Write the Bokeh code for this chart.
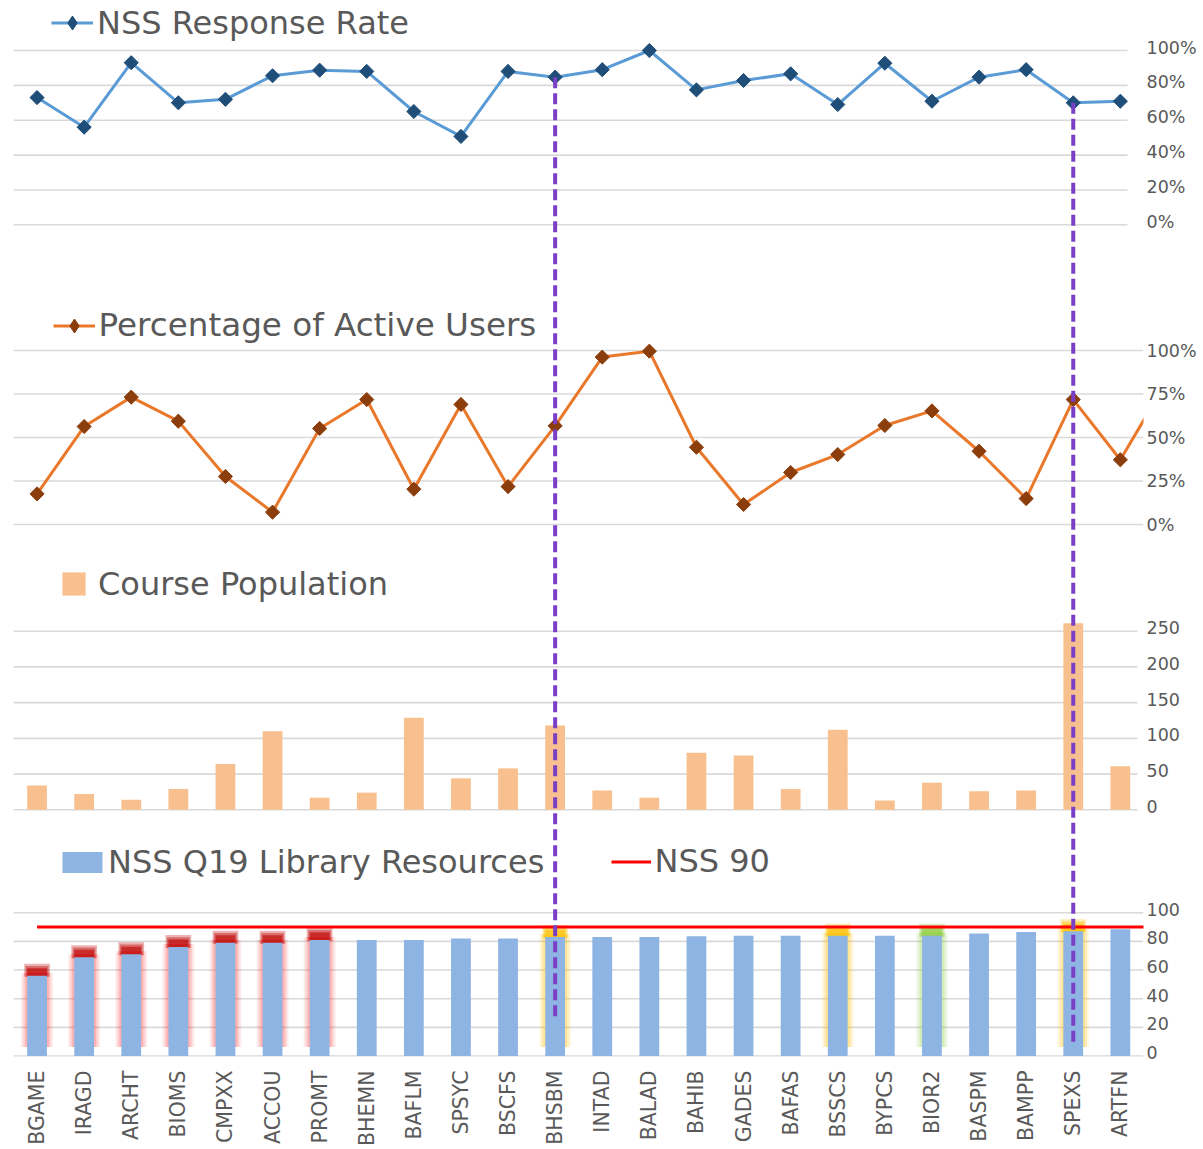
import math
from bokeh.plotting import figure
from bokeh.models import (Range1d, Legend, LegendItem, FixedTicker, LinearAxis)
from bokeh.embed import file_html
from bokeh.resources import INLINE

# ---------------- data ----------------
categories = ["BGAME", "IRAGD", "ARCHT", "BIOMS", "CMPXX", "ACCOU", "PROMT", "BHEMN",
              "BAFLM", "SPSYC", "BSCFS", "BHSBM", "INTAD", "BALAD", "BAHIB", "GADES",
              "BAFAS", "BSSCS", "BYPCS", "BIOR2", "BASPM", "BAMPP", "SPEXS", "ARTFN"]

response_rate = [0.73, 0.56, 0.93, 0.70, 0.72, 0.855, 0.887, 0.88, 0.65, 0.507, 0.88, 0.847,
                 0.89, 1.00, 0.774, 0.828, 0.866, 0.69, 0.927, 0.709, 0.847, 0.89, 0.70, 0.709]

# last value belongs to a course beyond the visible crop (line runs off the edge)
active_users = [0.176, 0.563, 0.732, 0.594, 0.276, 0.071, 0.552, 0.718, 0.203, 0.69, 0.218,
                0.567, 0.962, 0.996, 0.444, 0.115, 0.299, 0.402, 0.569, 0.653, 0.421, 0.149,
                0.718, 0.372, 0.83]

course_population = [34, 22, 14, 29, 64, 110, 17, 24, 129, 44, 58, 118, 27, 17, 80, 76, 29,
                     112, 13, 38, 26, 27, 261, 61]

library_q19 = [56, 69, 71, 76, 79, 79, 81, 81, 81, 82, 82, 83, 83, 83, 83.5, 84, 84, 84, 84,
               84, 85.5, 86.5, 87, 88.5]

nss_90 = [90, 90, 90, 90, 90, 90, 90, 90, 90, 90, 90, 90, 90, 90, 90, 90, 90, 90, 90, 90,
          90, 90, 90, 90, 90]

glow_red = ["BGAME", "IRAGD", "ARCHT", "BIOMS", "CMPXX", "ACCOU", "PROMT"]
glow_yellow = ["BHSBM", "BSSCS", "SPEXS"]
glow_green = ["BIOR2"]

rr_ticks = [0, 0.2, 0.4, 0.6, 0.8, 1.0]
rr_tick_labels = ["0%", "20%", "40%", "60%", "80%", "100%"]
au_ticks = [0, 0.25, 0.5, 0.75, 1.0]
au_tick_labels = ["0%", "25%", "50%", "75%", "100%"]
pop_ticks = [0, 50, 100, 150, 200, 250]
pop_tick_labels = ["0", "50", "100", "150", "200", "250"]
lib_ticks = [0, 20, 40, 60, 80, 100]
lib_tick_labels = ["0", "20", "40", "60", "80", "100"]

guide_courses = ["BHSBM", "SPEXS"]
guide_library_end = [25, 8]

# ---------------- layout ----------------
W, H = 1203, 1149
ML, MR, MB = 13, 60, 93
FW, FH = W - ML - MR, H - MB
CAT_PX = 47.1
BAR_W = 0.42
FONT = "DejaVu Sans"
GREY = "#595959"

# value -> pixel-from-frame-top bands for each stacked panel
BANDS = {
    "rr": (0.0, 224.3, 1.0, 50.0),
    "au": (0.0, 524.0, 1.0, 350.0),
    "pop": (0.0, 809.3, 250.0, 630.7),
    "lib": (0.0, 1055.6, 100.0, 912.2),
}
LABEL_LIFT = {"rr": 3, "au": 0, "pop": 3, "lib": 3}


def to_px(band, v):
    v_lo, p_lo, v_hi, p_hi = BANDS[band]
    return p_lo + (v - v_lo) * (p_hi - p_lo) / (v_hi - v_lo)


def band_range(band):
    v_lo, p_lo, v_hi, p_hi = BANDS[band]
    f = lambda px: v_lo + (px - p_lo) * (v_hi - v_lo) / (p_hi - p_lo)
    return Range1d(start=f(FH), end=f(0))


x_lo = -0.5
x_hi = -0.5 + FW / CAT_PX

p = figure(width=W, height=H, x_range=Range1d(x_lo, x_hi), y_range=Range1d(FH, 0),
           output_backend="svg", toolbar_location=None,
           x_axis_location=None, y_axis_location=None,
           min_border_left=ML, min_border_right=MR, min_border_top=0, min_border_bottom=MB)
p.outline_line_color = None
p.background_fill_color = "white"
p.border_fill_color = "white"
p.xgrid.visible = False
p.ygrid.visible = False
for k in BANDS:
    p.extra_y_ranges[k] = band_range(k)

xi = list(range(len(categories)))
xi_au = list(range(len(active_users)))
xi_90 = list(range(len(nss_90)))


def grid(band, ticks, x_end):
    n = len(ticks)
    p.segment(x0=[x_lo] * n, x1=[x_end] * n, y0=ticks, y1=ticks, y_range_name=band,
              line_color="#D9D9D9", line_width=1.6)


px_to_x = 1.0 / CAT_PX
px_to_lib = 100.0 / (BANDS["lib"][1] - BANDS["lib"][3])

RR_LINE, RR_MARK = "#5B9BD5", "#1F4E79"
AU_LINE, AU_MARK = "#E9782A", "#8B3D0C"

# ---- panel 1: NSS response rate ----
grid("rr", rr_ticks, (1127 - 36.55) / CAT_PX)
rr_line = p.line(xi, response_rate, y_range_name="rr", line_color=RR_LINE, line_width=3)
rr_key = p.scatter(xi, response_rate, y_range_name="rr", marker="diamond", size=12,
                   fill_color=RR_MARK, line_color=RR_MARK)
p.scatter(xi, response_rate, y_range_name="rr", marker="square", angle=math.pi / 4,
          size=10, fill_color=RR_MARK, line_color=RR_MARK)

# ---- panel 2: active users ----
grid("au", au_ticks, x_hi)
au_line = p.line(xi_au, active_users, y_range_name="au", line_color=AU_LINE, line_width=3)
au_key = p.scatter(xi_au, active_users, y_range_name="au", marker="diamond", size=12,
                   fill_color=AU_MARK, line_color=AU_MARK)
p.scatter(xi_au, active_users, y_range_name="au", marker="square", angle=math.pi / 4,
          size=10, fill_color=AU_MARK, line_color=AU_MARK)

# ---- panel 3: course population ----
grid("pop", pop_ticks, (1137 - 36.55) / CAT_PX)
pop_bars = p.vbar(x=xi, top=course_population, bottom=0, width=BAR_W, y_range_name="pop",
                  fill_color="#F9C08F", line_color=None)

# ---- panel 4: library resources ----
grid("lib", lib_ticks, x_hi)


def glow(names, cap_color, side_color, side_alpha):
    xs = [categories.index(n) for n in names]
    vals = [library_q19[i] for i in xs]
    for e, a in ((6, 0.6), (4, 0.8), (2, 1.0)):
        p.vbar(x=xs, width=BAR_W + 2 * e * px_to_x, bottom=9 * px_to_lib,
               top=[v + 3 * px_to_lib for v in vals], y_range_name="lib",
               fill_color=side_color, fill_alpha=a * side_alpha, line_color=None)
    for e, a in ((3, 0.3), (1.5, 0.4), (0, 0.6)):
        p.vbar(x=xs, width=BAR_W + 2 * e * px_to_x, bottom=[v - 1 * px_to_lib for v in vals],
               top=[v + (7.5 + 1.5 * e) * px_to_lib for v in vals], y_range_name="lib",
               fill_color=cap_color, fill_alpha=a, line_color=None)


glow(glow_red, "#C00000", "#FF0000", 0.14)
glow(glow_yellow, "#FFC000", "#FFC000", 0.2)
glow(glow_green, "#8FCB3F", "#92D050", 0.2)

lib_bars = p.vbar(x=xi, top=library_q19, bottom=0, width=BAR_W, y_range_name="lib",
                  fill_color="#8EB4E3", line_color=None)
nss_line = p.line(xi_90, nss_90, y_range_name="lib", line_color="#FF0000", line_width=3)

# ---- guide lines spanning panels ----
gx = [categories.index(c) for c in guide_courses]
g_top = [to_px("rr", response_rate[i]) for i in gx]
g_bot = [to_px("lib", v) for v in guide_library_end]
p.segment(x0=gx, x1=gx, y0=g_top, y1=g_bot, line_color="#7B3FC5", line_width=4,
          line_dash="11 5")

# ---- right-hand value labels of all panels (one axis, panel-mapped ticks) ----
tick_pos, tick_text = [], {}
for band, ticks, labels in (("rr", rr_ticks, rr_tick_labels), ("au", au_ticks, au_tick_labels),
                            ("pop", pop_ticks, pop_tick_labels),
                            ("lib", lib_ticks, lib_tick_labels)):
    for t, lab in zip(ticks, labels):
        pos = round(to_px(band, t) - LABEL_LIFT[band], 2)
        tick_pos.append(pos)
        tick_text[pos] = lab

yaxis = LinearAxis(ticker=FixedTicker(ticks=tick_pos), major_label_overrides=tick_text)
yaxis.axis_line_color = None
yaxis.major_tick_line_color = None
yaxis.minor_tick_line_color = None
yaxis.major_tick_out = 0
yaxis.major_tick_in = 0
yaxis.major_label_standoff = 3
yaxis.major_label_text_font = FONT
yaxis.major_label_text_font_size = "17.5px"
yaxis.major_label_text_color = GREY
p.add_layout(yaxis, "right")

# ---- x axis ----
xaxis = LinearAxis(ticker=FixedTicker(ticks=xi),
                   major_label_overrides={i: c for i, c in enumerate(categories)})
xaxis.major_label_orientation = math.pi / 2
xaxis.axis_line_color = None
xaxis.major_tick_line_color = None
xaxis.minor_tick_line_color = None
xaxis.major_tick_out = 0
xaxis.major_tick_in = 0
xaxis.major_label_standoff = 14
xaxis.major_label_text_font = FONT
xaxis.major_label_text_font_size = "20.5px"
xaxis.major_label_text_color = GREY
p.add_layout(xaxis, "below")


# ---- legends ----
def legend(label, renderers, vx, vy, gw, gh, standoff, size="32px"):
    lg = Legend(items=[LegendItem(label=label, renderers=renderers)], location=(vx, vy),
                orientation="horizontal", label_text_font=FONT, label_text_font_size=size,
                label_text_color=GREY, glyph_width=gw, glyph_height=gh,
                label_standoff=standoff, padding=0, margin=0, spacing=0,
                border_line_color=None, background_fill_alpha=0)
    p.add_layout(lg)


legend("NSS Response Rate", [rr_line, rr_key], 38, 1014.5, 42, 35, 4)
legend("Percentage of Active Users", [au_line, au_key], 39.6, 711.7, 42, 35, 4, "32.6px")
legend("Course Population", [pop_bars], 46, 453.5, 29, 29, 10)
legend("NSS Q19 Library Resources", [lib_bars], 44, 175, 50, 26, 1)
legend("NSS 90", [nss_line], 597.5, 175.7, 40, 21, 4)

open("out.html", "w").write(file_html(p, INLINE))
